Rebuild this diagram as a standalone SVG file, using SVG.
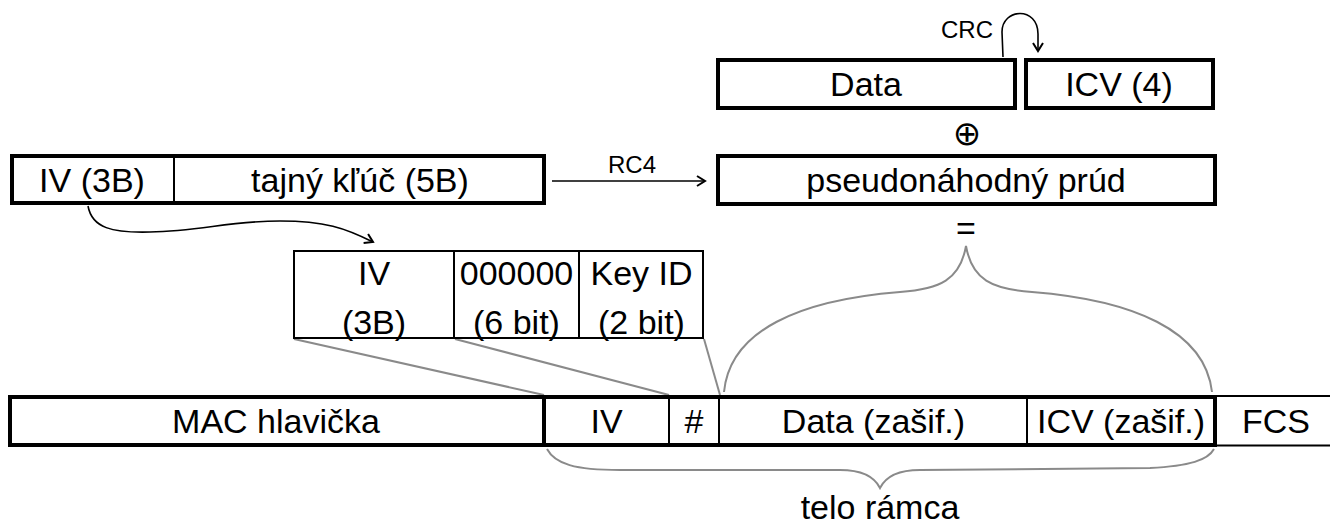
<svg xmlns="http://www.w3.org/2000/svg" width="1330" height="526" viewBox="0 0 1330 526">
<style>
.t{font-family:"Liberation Sans",Arial,sans-serif;font-size:34px;fill:#000;text-anchor:middle}
.s{font-size:24px}
.thick{fill:#fff;stroke:#000;stroke-width:4}
.div{stroke:#000;stroke-width:2}
.thin{fill:#fff;stroke:#000;stroke-width:2}
.g{fill:none;stroke:#8a8a8a;stroke-width:2}
.a{fill:none;stroke:#000;stroke-width:1.6}
</style>
<defs>
<marker id="ah" markerUnits="userSpaceOnUse" markerWidth="14" markerHeight="14" refX="10" refY="6" orient="auto" viewBox="0 0 14 12"><path d="M2,1 L10,6 L2,11" fill="none" stroke="#000" stroke-width="2"/></marker>
</defs>
<rect width="1330" height="526" fill="#fff"/>

<g id="connectors">
<path class="a" d="M1003,57 L1002,32 C1002,8 1038,6 1038,34 L1038,51" marker-end="url(#ah)"/>
<text class="t s" x="967" y="38">CRC</text>
<line class="a" x1="552" y1="181" x2="705" y2="181" marker-end="url(#ah)"/>
<text class="t s" x="632" y="173">RC4</text>
<path class="a" d="M88,206 C92,228 112,233 150,232 C200,231 230,221 280,221 C325,221 345,228 373,242" marker-end="url(#ah)"/>
<line class="g" x1="294" y1="339" x2="544" y2="395"/>
<line class="g" x1="455" y1="339" x2="669" y2="395"/>
<line class="g" x1="704" y1="339" x2="720" y2="395"/>
<path class="g" d="M724,392 C730,330 800,300 900,292 C940,289 960,280 966,246 C972,280 992,289 1032,292 C1132,300 1205,330 1212,392"/>
<path class="g" d="M547,449 C555,464 575,470 620,470 L840,470 C865,470 875,478 880,488 C885,478 895,470 920,470 L1150,468 C1190,466 1208,460 1214,449"/>
<text class="t" x="880" y="519">telo rámca</text>
</g>

<g id="data">
<rect class="thick" x="718" y="60" width="297" height="48"/>
<text class="t" x="866" y="96">Data</text>
</g>
<g id="icv">
<rect class="thick" x="1026" y="60" width="187" height="48"/>
<text class="t" x="1119" y="96">ICV (4)</text>
</g>
<g id="xor">
<text x="967" y="145" style="font-family:'DejaVu Sans',sans-serif;font-size:34px;text-anchor:middle">⊕</text>
</g>
<g id="key">
<rect class="thick" x="12" y="156" width="532" height="47"/>
<line class="div" x1="174" y1="157" x2="174" y2="202"/>
<text class="t" x="92" y="192">IV (3B)</text>
<text class="t" x="360" y="192">tajný kľúč (5B)</text>
</g>
<g id="stream">
<rect class="thick" x="718" y="156" width="497" height="48"/>
<text class="t" x="966" y="192">pseudonáhodný prúd</text>
</g>
<g id="eq">
<text class="t" x="966" y="240">=</text>
</g>
<g id="ivfield">
<rect class="thin" x="294" y="251" width="409" height="87"/>
<line class="div" x1="454" y1="251" x2="454" y2="338"/>
<line class="div" x1="579" y1="251" x2="579" y2="338"/>
<text class="t" x="374" y="285">IV</text>
<text class="t" x="374" y="334">(3B)</text>
<text class="t" x="516.5" y="285">000000</text>
<text class="t" x="516.5" y="334">(6 bit)</text>
<text class="t" x="641.5" y="285">Key ID</text>
<text class="t" x="641.5" y="334">(2 bit)</text>
</g>
<g id="frame">
<line class="div" x1="1215" y1="396" x2="1330" y2="396"/>
<line class="div" x1="1215" y1="445.5" x2="1330" y2="445.5"/>
<rect class="thick" x="10" y="397" width="1205" height="48"/>
<line x1="544" y1="397" x2="544" y2="445" stroke="#000" stroke-width="4"/>
<line class="div" x1="669" y1="397" x2="669" y2="445"/>
<line class="div" x1="719" y1="397" x2="719" y2="445"/>
<line class="div" x1="1027" y1="397" x2="1027" y2="445"/>
<text class="t" x="276" y="433">MAC hlavička</text>
<text class="t" x="606.5" y="433">IV</text>
<text class="t" x="694" y="433">#</text>
<text class="t" x="873.5" y="433">Data (zašif.)</text>
<text class="t" x="1121" y="433">ICV (zašif.)</text>
<text class="t" x="1276" y="433">FCS</text>
</g>
</svg>
